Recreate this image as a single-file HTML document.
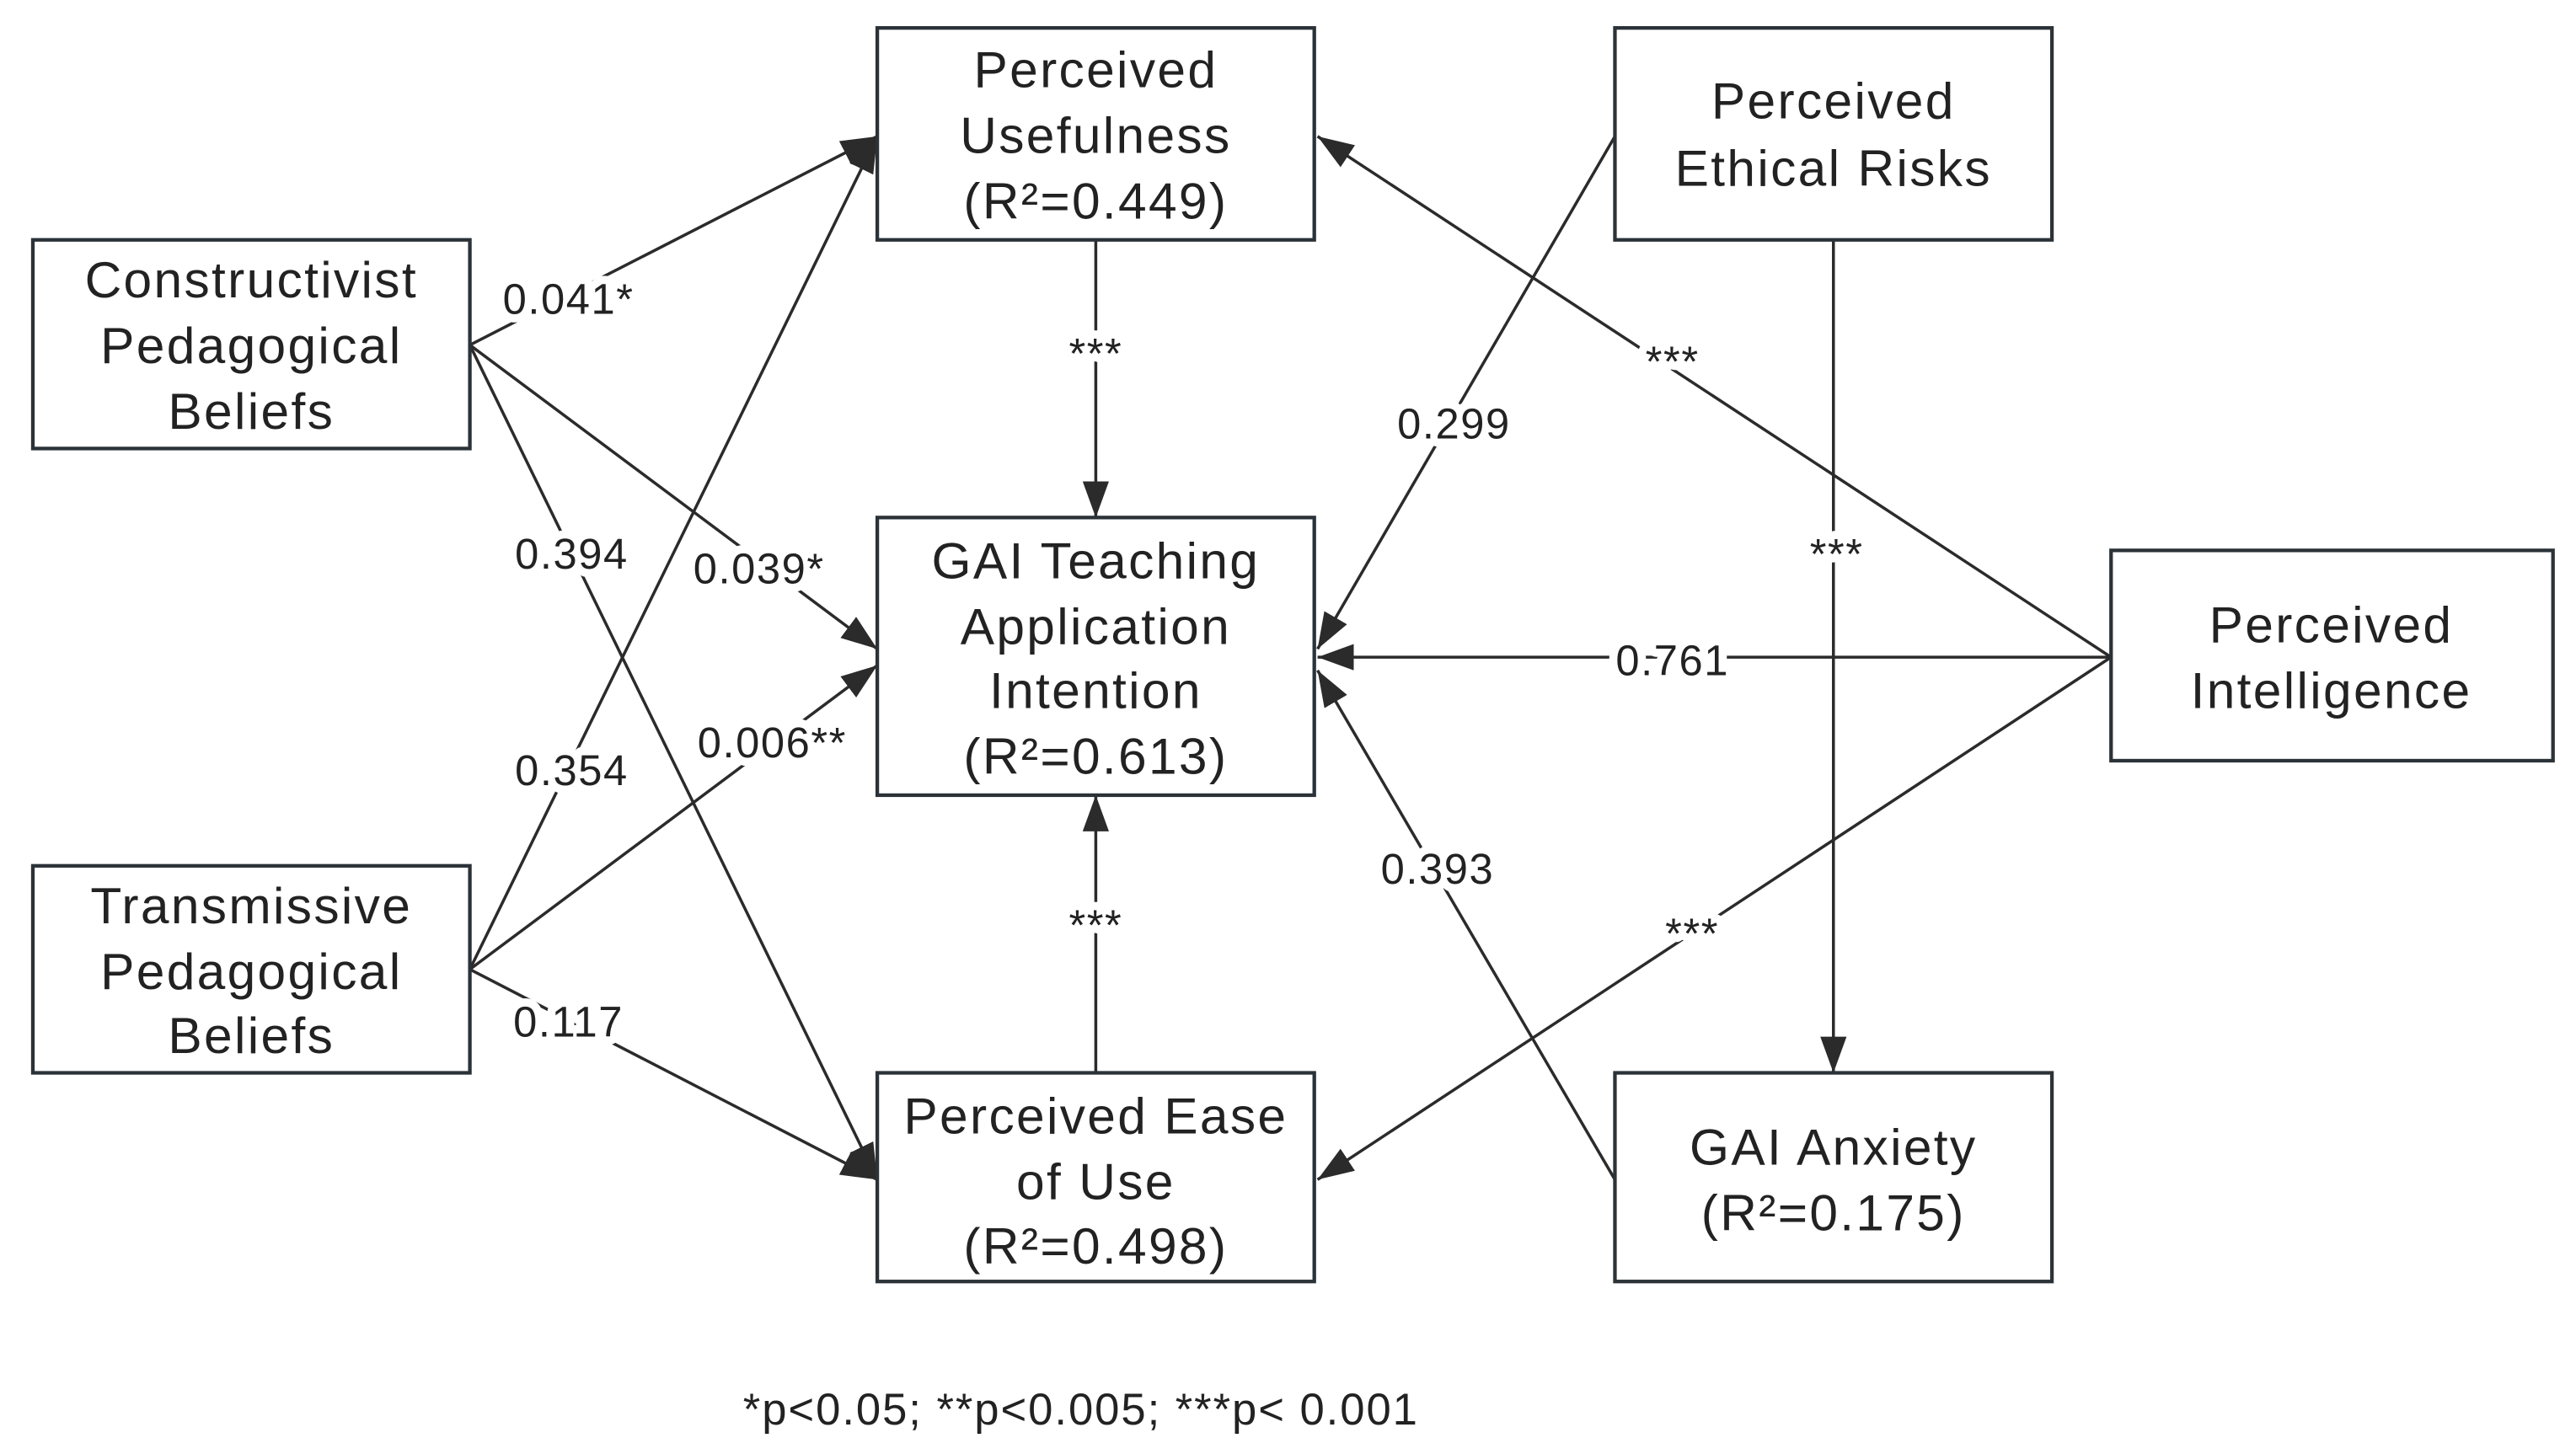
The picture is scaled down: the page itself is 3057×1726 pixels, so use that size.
<!DOCTYPE html>
<html><head><meta charset="utf-8"><style>html,body{margin:0;padding:0;background:#fff}svg{display:block}</style></head><body>
<svg width="3057" height="1726" viewBox="0 0 1568 885" preserveAspectRatio="none" xmlns="http://www.w3.org/2000/svg" font-family="'Liberation Sans', sans-serif">
<defs>
<marker id="a" viewBox="0 0 22 16" refX="22" refY="8" markerWidth="22" markerHeight="16" markerUnits="userSpaceOnUse" orient="auto"><path d="M0,0 L22,8 L0,16 Z" fill="#2b2b2b"/></marker>
</defs>
<g stroke="#2b2b2b" stroke-width="1.8" fill="none" marker-end="url(#a)">
<line x1="286" y1="210" x2="534" y2="83"/>
<line x1="286" y1="210" x2="534" y2="395"/>
<line x1="286" y1="210" x2="534" y2="718"/>
<line x1="286" y1="590" x2="534" y2="83"/>
<line x1="286" y1="590" x2="534" y2="405"/>
<line x1="286" y1="590" x2="534" y2="718"/>
<line x1="667" y1="146" x2="667" y2="315"/>
<line x1="667" y1="653" x2="667" y2="484"/>
<line x1="983" y1="83" x2="802" y2="395"/>
<line x1="1285" y1="400" x2="802" y2="83"/>
<line x1="1285" y1="400" x2="802" y2="400"/>
<line x1="1285" y1="400" x2="802" y2="718"/>
<line x1="1116" y1="146" x2="1116" y2="653"/>
<line x1="983" y1="718" x2="802" y2="408"/>
</g>
<g stroke="#2b3238" stroke-width="2.2" fill="#fff">
<rect x="20" y="146" width="266" height="127"/>
<rect x="20" y="527" width="266" height="126"/>
<rect x="534" y="17" width="266" height="129"/>
<rect x="534" y="315" width="266" height="169"/>
<rect x="534" y="653" width="266" height="127"/>
<rect x="983" y="17" width="266" height="129"/>
<rect x="1285" y="335" width="269" height="128"/>
<rect x="983" y="653" width="266" height="127"/>
</g>
<g font-size="31" fill="#222" text-anchor="middle" letter-spacing="1.2">
<text x="153" y="181">Constructivist</text><text x="153" y="221">Pedagogical</text><text x="153" y="261">Beliefs</text>
<text x="153" y="562">Transmissive</text><text x="153" y="602">Pedagogical</text><text x="153" y="641">Beliefs</text>
<text x="667" y="53">Perceived</text><text x="667" y="93">Usefulness</text><text x="667" y="133">(R²=0.449)</text>
<text x="667" y="352">GAI Teaching</text><text x="667" y="392">Application</text><text x="667" y="431">Intention</text><text x="667" y="471">(R²=0.613)</text>
<text x="667" y="690">Perceived Ease</text><text x="667" y="730">of Use</text><text x="667" y="769">(R²=0.498)</text>
<text x="1116" y="72">Perceived</text><text x="1116" y="113">Ethical Risks</text>
<text x="1419" y="391">Perceived</text><text x="1419" y="431">Intelligence</text>
<text x="1116" y="709">GAI Anxiety</text><text x="1116" y="749">(R²=0.175)</text>
</g>
<g font-size="26" fill="#222" text-anchor="middle" stroke="#fff" stroke-width="10" paint-order="stroke" stroke-linejoin="round" letter-spacing="0.8">
<text x="346" y="191">0.041*</text>
<text x="462" y="355">0.039*</text>
<text x="348" y="346">0.394</text>
<text x="348" y="478">0.354</text>
<text x="470" y="461">0.006**</text>
<text x="346" y="631">0.117</text>
<text x="667" y="224">***</text>
<text x="667" y="572">***</text>
<text x="885" y="267">0.299</text>
<text x="1018" y="229">***</text>
<text x="1018" y="411">0.761</text>
<text x="1030" y="577">***</text>
<text x="1118" y="346">***</text>
<text x="875" y="538">0.393</text>
</g>
<text x="658" y="867" font-size="27" fill="#222" text-anchor="middle" letter-spacing="1">*p&lt;0.05; **p&lt;0.005; ***p&lt; 0.001</text>
</svg>
</body></html>
